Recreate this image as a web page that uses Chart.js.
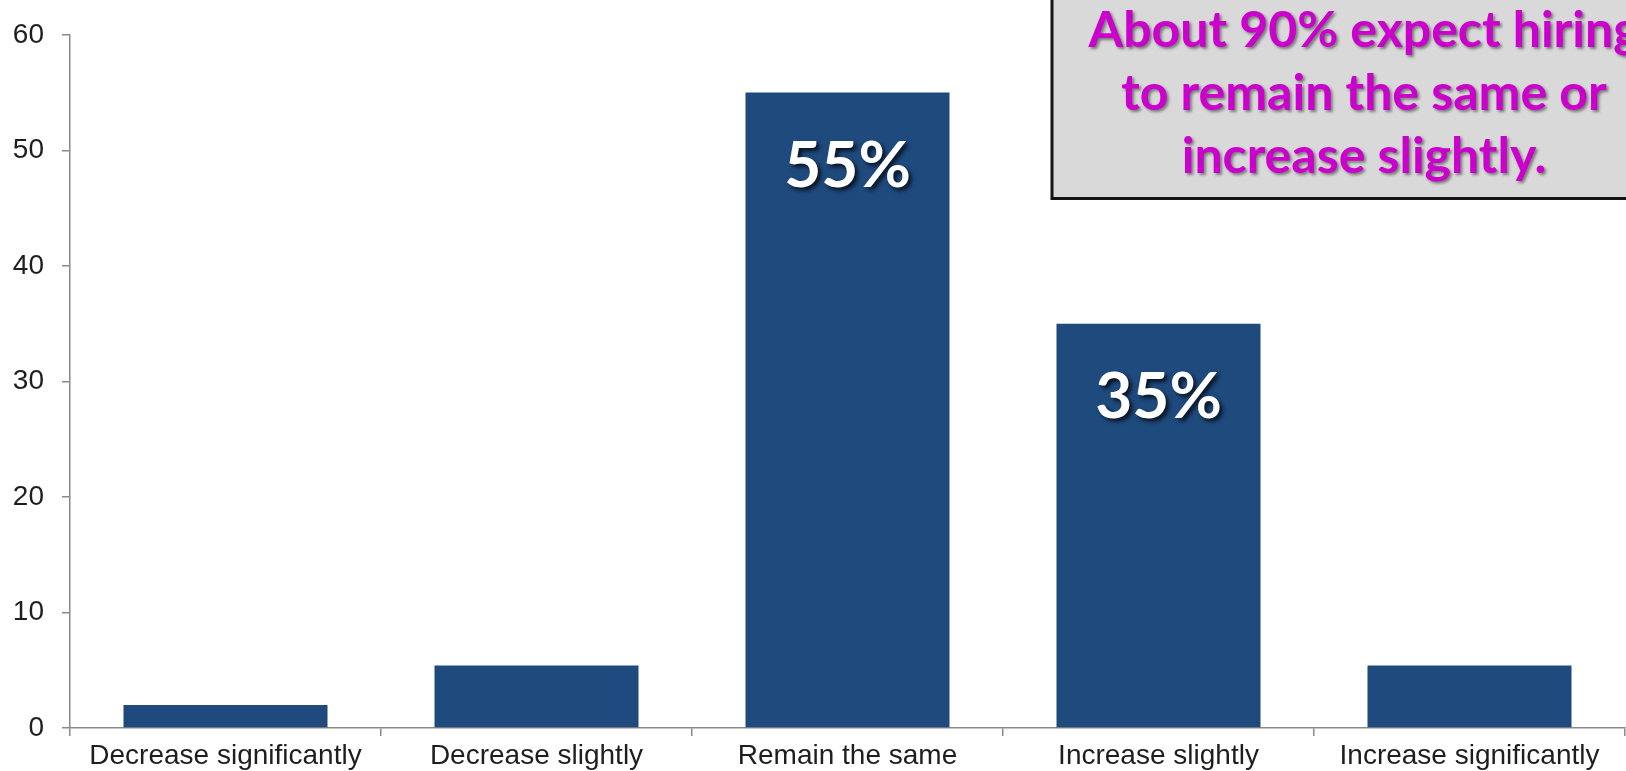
<!DOCTYPE html>
<html>
<head>
<meta charset="utf-8">
<title>Hiring expectations</title>
<script src="https://cdn.jsdelivr.net/npm/chart.js@4.4.1/dist/chart.umd.min.js"></script>
<style>
  html, body { margin: 0; padding: 0; background: #ffffff; }
  #wrap { width: 1626px; height: 771px; position: relative; }
</style>
</head>
<body>
<div id="wrap"><canvas id="chart" width="1626" height="771"></canvas></div>
<script>
// Expected change in hiring, share of respondents (%)
const categories = [
  'Decrease significantly',
  'Decrease slightly',
  'Remain the same',
  'Increase slightly',
  'Increase significantly'
];
const shares = [2.0, 5.4, 55, 35, 5.4];
// which bars carry a value label inside them
const labelled = [false, false, true, true, false];

// value axis
const yMin = 0;
const yMax = 60;
const yStep = 10;

// callout text
const calloutLines = [
  'About 90% expect hiring',
  'to remain the same or',
  'increase slightly.'
];

const AXIS_GREY = '#8a8a8a';
const TEXT_DARK = '#1e1e1e';
const BAR_BLUE = '#1f4a7e';
const TICK_FONT = { family: '"Liberation Sans", Arial, sans-serif', size: 28 };

// White percentage labels inside the highlighted bars
const barValueLabels = {
  id: 'barValueLabels',
  afterDatasetsDraw(chart) {
    const ctx = chart.ctx;
    const meta = chart.getDatasetMeta(0);
    ctx.save();
    ctx.font = 'bold 64px Lato, "Open Sans", sans-serif';
    ctx.textAlign = 'center';
    ctx.textBaseline = 'middle';
    ctx.fillStyle = '#ffffff';
    ctx.shadowColor = 'rgba(0,0,0,0.75)';
    ctx.shadowOffsetX = 3;
    ctx.shadowOffsetY = 3;
    ctx.shadowBlur = 4;
    meta.data.forEach((bar, i) => {
      if (!labelled[i]) return;
      const txt = Math.round(shares[i]) + '%';
      ctx.fillText(txt, bar.x, bar.y + 74);
    });
    ctx.restore();
  }
};

// Grey call-out box in the upper right corner
const calloutBox = {
  id: 'calloutBox',
  afterDraw(chart) {
    const ctx = chart.ctx;
    ctx.save();
    ctx.fillStyle = '#d9d9d9';
    ctx.fillRect(1052, -10, 700, 208.5);
    ctx.strokeStyle = '#141414';
    ctx.lineWidth = 3;
    ctx.strokeRect(1052, -10, 700, 208.5);

    ctx.font = 'bold 50px Lato, "Open Sans", sans-serif';
    ctx.textAlign = 'center';
    ctx.textBaseline = 'alphabetic';
    ctx.fillStyle = '#cc00cc';
    ctx.shadowColor = 'rgba(0,0,0,0.45)';
    ctx.shadowOffsetX = 2;
    ctx.shadowOffsetY = 2;
    ctx.shadowBlur = 3;
    const baselines = [47, 110, 173];
    calloutLines.forEach((line, i) => {
      ctx.fillText(line, 1364, baselines[i]);
    });
    ctx.restore();
  }
};

new Chart(document.getElementById('chart'), {
  type: 'bar',
  data: {
    labels: categories,
    datasets: [{
      data: shares,
      backgroundColor: BAR_BLUE,
      borderWidth: 0,
      barPercentage: 0.656,
      categoryPercentage: 1.0
    }]
  },
  options: {
    responsive: false,
    animation: false,
    events: [],
    layout: { padding: { top: 22, right: 1, left: 0, bottom: 0 } },
    plugins: {
      legend: { display: false },
      tooltip: { enabled: false }
    },
    scales: {
      x: {
        grid: {
          offset: true,
          drawOnChartArea: false,
          drawTicks: true,
          tickLength: 8,
          color: AXIS_GREY,
          lineWidth: 1.5
        },
        border: { display: true, color: AXIS_GREY, width: 1.5 },
        ticks: {
          color: TEXT_DARK,
          font: TICK_FONT,
          padding: 3,
          maxRotation: 0,
          autoSkip: false
        },
        afterFit(scale) { scale.height = 43; }
      },
      y: {
        min: yMin,
        max: yMax,
        grid: {
          drawOnChartArea: false,
          drawTicks: true,
          tickLength: 8,
          color: AXIS_GREY,
          lineWidth: 1.5
        },
        border: { display: true, color: AXIS_GREY, width: 1.5 },
        ticks: {
          stepSize: yStep,
          color: TEXT_DARK,
          font: TICK_FONT,
          padding: 18
        },
        afterFit(scale) { scale.width = 70; }
      }
    }
  },
  plugins: [barValueLabels, calloutBox]
});
</script>
</body>
</html>
